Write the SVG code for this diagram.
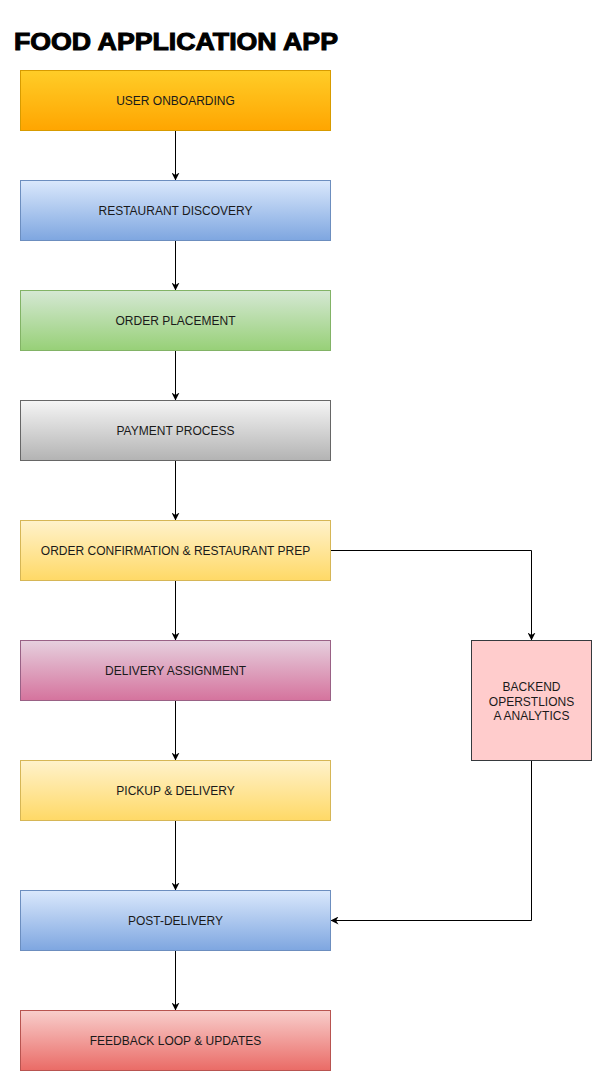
<svg xmlns="http://www.w3.org/2000/svg" width="592" height="1071" viewBox="0 0 592 1071">
<style>
.lbl{font-family:"Liberation Sans",Arial,sans-serif;font-size:12px;fill:#1a1a1a;text-anchor:middle;dominant-baseline:central}
.edge{fill:none;stroke:#000;stroke-width:1}
</style>
<defs>
<linearGradient id="gOrange" x1="0" y1="0" x2="0" y2="1"><stop offset="0" stop-color="#ffcd28"/><stop offset="1" stop-color="#ffa500"/></linearGradient>
<linearGradient id="gBlue" x1="0" y1="0" x2="0" y2="1"><stop offset="0" stop-color="#dae8fc"/><stop offset="1" stop-color="#7ea6e0"/></linearGradient>
<linearGradient id="gGreen" x1="0" y1="0" x2="0" y2="1"><stop offset="0" stop-color="#d5e8d4"/><stop offset="1" stop-color="#97d077"/></linearGradient>
<linearGradient id="gGrey" x1="0" y1="0" x2="0" y2="1"><stop offset="0" stop-color="#f5f5f5"/><stop offset="1" stop-color="#b3b3b3"/></linearGradient>
<linearGradient id="gYellow" x1="0" y1="0" x2="0" y2="1"><stop offset="0" stop-color="#fff2cc"/><stop offset="1" stop-color="#ffd966"/></linearGradient>
<linearGradient id="gPurple" x1="0" y1="0" x2="0" y2="1"><stop offset="0" stop-color="#e6d0de"/><stop offset="1" stop-color="#d5739d"/></linearGradient>
<linearGradient id="gRed" x1="0" y1="0" x2="0" y2="1"><stop offset="0" stop-color="#f8cecc"/><stop offset="1" stop-color="#ea6b66"/></linearGradient>
<marker id="arr" viewBox="0 0 10 10" refX="10" refY="5" markerWidth="8" markerHeight="8" markerUnits="userSpaceOnUse" orient="auto">
<path d="M0,0 L10,5 L0,10 L3,5 Z" fill="#000"/>
</marker>
</defs>
<text x="14" y="50" textLength="324" lengthAdjust="spacingAndGlyphs" font-family="'Liberation Sans',Arial,sans-serif" font-size="24" font-weight="bold" fill="#000" stroke="#000" stroke-width="1">FOOD APPLICATION APP</text>
<g id="edges">
<path class="edge" d="M175.5,130.5 V180.5" marker-end="url(#arr)"/>
<path class="edge" d="M175.5,240.5 V290.5" marker-end="url(#arr)"/>
<path class="edge" d="M175.5,350.5 V400.5" marker-end="url(#arr)"/>
<path class="edge" d="M175.5,460.5 V520.5" marker-end="url(#arr)"/>
<path class="edge" d="M175.5,580.5 V640.5" marker-end="url(#arr)"/>
<path class="edge" d="M175.5,700.5 V760.5" marker-end="url(#arr)"/>
<path class="edge" d="M175.5,820.5 V890.5" marker-end="url(#arr)"/>
<path class="edge" d="M175.5,950.5 V1010.5" marker-end="url(#arr)"/>
<path class="edge" d="M330.5,550.5 H531.5 V640.5" marker-end="url(#arr)"/>
<path class="edge" d="M531.5,760.5 V920.5 H330.5" marker-end="url(#arr)"/>
</g>
<g id="n1"><rect x="20.5" y="70.5" width="310" height="60" fill="url(#gOrange)" stroke="#d79b00"/><text class="lbl" x="175.5" y="101">USER ONBOARDING</text></g>
<g id="n2"><rect x="20.5" y="180.5" width="310" height="60" fill="url(#gBlue)" stroke="#6c8ebf"/><text class="lbl" x="175.5" y="211">RESTAURANT DISCOVERY</text></g>
<g id="n3"><rect x="20.5" y="290.5" width="310" height="60" fill="url(#gGreen)" stroke="#82b366"/><text class="lbl" x="175.5" y="321">ORDER PLACEMENT</text></g>
<g id="n4"><rect x="20.5" y="400.5" width="310" height="60" fill="url(#gGrey)" stroke="#666666"/><text class="lbl" x="175.5" y="431">PAYMENT PROCESS</text></g>
<g id="n5"><rect x="20.5" y="520.5" width="310" height="60" fill="url(#gYellow)" stroke="#d6b656"/><text class="lbl" x="175.5" y="551">ORDER CONFIRMATION &amp; RESTAURANT PREP</text></g>
<g id="n6"><rect x="20.5" y="640.5" width="310" height="60" fill="url(#gPurple)" stroke="#996185"/><text class="lbl" x="175.5" y="671">DELIVERY ASSIGNMENT</text></g>
<g id="n7"><rect x="20.5" y="760.5" width="310" height="60" fill="url(#gYellow)" stroke="#d6b656"/><text class="lbl" x="175.5" y="791">PICKUP &amp; DELIVERY</text></g>
<g id="n8"><rect x="20.5" y="890.5" width="310" height="60" fill="url(#gBlue)" stroke="#6c8ebf"/><text class="lbl" x="175.5" y="921">POST-DELIVERY</text></g>
<g id="n9"><rect x="20.5" y="1010.5" width="310" height="60" fill="url(#gRed)" stroke="#b85450"/><text class="lbl" x="175.5" y="1041">FEEDBACK LOOP &amp; UPDATES</text></g>
<g id="n10"><rect x="471.5" y="640.5" width="120" height="120" fill="#ffcccc" stroke="#36393d"/>
<text class="lbl" x="531.5" y="687">BACKEND</text>
<text class="lbl" x="531.5" y="701.5">OPERSTLIONS</text>
<text class="lbl" x="531.5" y="716">A ANALYTICS</text></g>
</svg>
